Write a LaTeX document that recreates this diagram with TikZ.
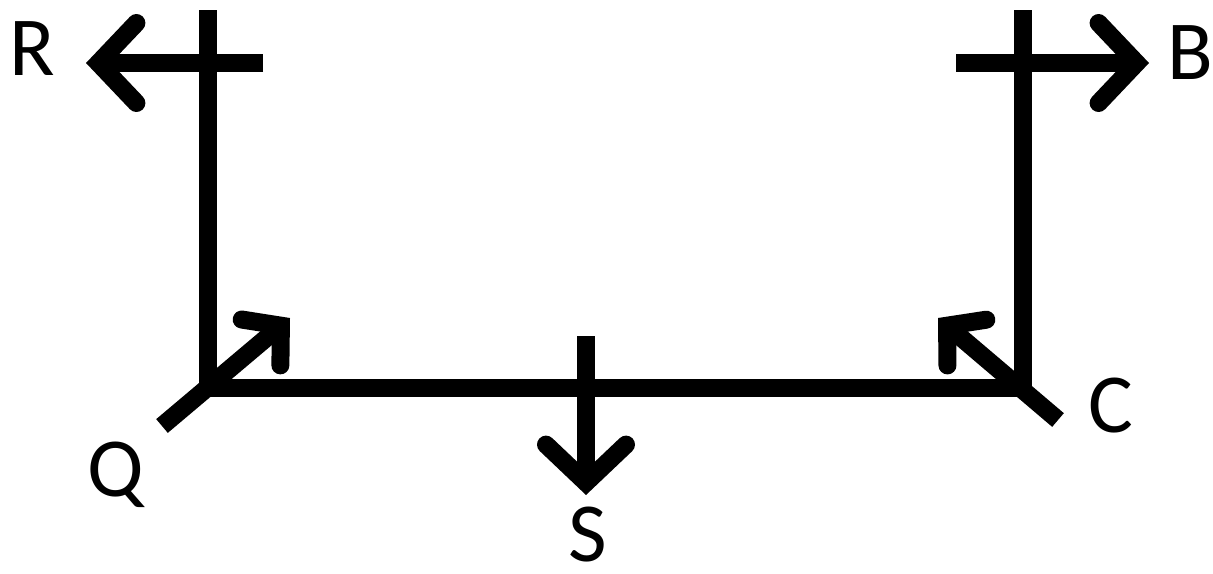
\documentclass[tikz,border=0pt]{standalone}
\usepackage{fontspec}
\setmainfont{Carlito}
\usetikzlibrary{arrows.meta}
\begin{document}
\begin{tikzpicture}[x=0.5pt,y=-0.5pt,
  frame/.style={line width=9pt,line join=miter},
  vec/.style={line width=9pt,-{Straight Barb[length=19pt,width=40pt,line cap=round]}},
  smallvec/.style={line width=9pt,-{Straight Barb[length=13pt,width=30pt,line cap=round]}},
  lbl/.style={font=\fontsize{42}{50}\selectfont,inner sep=0pt,anchor=base}]
\useasboundingbox (0,0) rectangle (1213,573);
% coordinates
\coordinate (LT) at (208,10);
\coordinate (LB) at (208,388);
\coordinate (RB) at (1023,388);
\coordinate (RT) at (1023,10);
\coordinate (Rs) at (263,63);
\coordinate (Re) at (86,63);
\coordinate (Bs) at (956,63);
\coordinate (Be) at (1149,63);
\coordinate (Ss) at (586,336);
\coordinate (Se) at (586,495);
\coordinate (Qs) at (162,426);
\coordinate (Qe) at (290,318);
\coordinate (Cs) at (1058,420);
\coordinate (Ce) at (938,318);
% frame
\draw[frame] (LT) -- (LB) -- (RB) -- (RT);
% vectors
\draw[vec] (Rs) -- (Re);
\draw[vec] (Bs) -- (Be);
\draw[vec] (Ss) -- (Se);
\draw[smallvec] (Qs) -- (Qe);
\draw[smallvec] (Cs) -- (Ce);
% labels
\node[lbl] (R) at (32,75) {R};
\node[lbl] (B) at (1190,79) {B};
\node[lbl] (Q) at (116,496) {Q};
\node[lbl] (S) at (588,561) {S};
\node[lbl] (C) at (1111,432) {C};
\end{tikzpicture}
\end{document}
